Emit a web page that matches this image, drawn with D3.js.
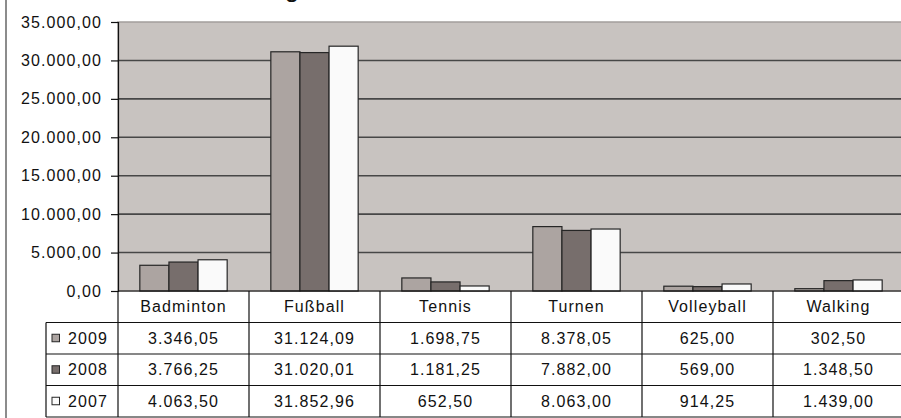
<!DOCTYPE html>
<meta charset="utf-8">
<style>
body { margin: 0; background: #fff; }
text { font-family: "Liberation Sans", Arial, sans-serif; fill: #111; }
.lbl { font-size: 16px; letter-spacing: 1.1px; }
</style>
<body>
<script src="https://d3js.org/d3.v7.min.js"></script>
<script>

var categories = ["Badminton", "Fußball", "Tennis", "Turnen", "Volleyball", "Walking"];
var years = ["2009", "2008", "2007"];
var v2009 = [3346.05, 31124.09, 1698.75, 8378.05, 625.00, 302.50];
var v2008 = [3766.25, 31020.01, 1181.25, 7882.00, 569.00, 1348.50];
var v2007 = [4063.50, 31852.96, 652.50, 8063.00, 914.25, 1439.00];
var yTicks = [0, 5000, 10000, 15000, 20000, 25000, 30000, 35000];

var seriesValues = [v2009, v2008, v2007];
var colors = ["#aca4a1", "#776e6c", "#fafafa"];

var width = 901, height = 418;
var plotLeft = 118, plotRight = 904, plotTop = 22, plotBottom = 291;
var rowH = 31.5, legendLeft = 46;

// german number format
var de = d3.formatLocale({decimal: ",", thousands: ".", grouping: [3], currency: ["", "€"]});
var fmt = de.format(",.2f");

var svg = d3.select("body").append("svg")
    .attr("width", width)
    .attr("height", height);

// outer chart border (left side visible)
svg.append("line")
    .attr("x1", 6).attr("x2", 6).attr("y1", 0).attr("y2", height)
    .attr("stroke", "#8c8c8c").attr("stroke-width", 2);

// title, mostly cut off above the picture
svg.append("text")
    .attr("x", 292).attr("y", -3)
    .attr("text-anchor", "middle")
    .style("font-size", "26px")
    .text("g");

var x0 = d3.scaleBand().domain(categories).range([plotLeft, plotRight]);
var gap = x0.bandwidth() * 1.5 / 4.5 / 2;
var x1 = d3.scaleBand().domain(years).range([gap, x0.bandwidth() - gap]);
var y = d3.scaleLinear().domain([0, 35000]).range([plotBottom, plotTop]);

// plot area
svg.append("rect")
    .attr("x", plotLeft).attr("y", plotTop)
    .attr("width", plotRight - plotLeft).attr("height", plotBottom - plotTop)
    .attr("fill", "#c8c3c0")
    .attr("stroke", "#a39e9c").attr("stroke-width", 1.5);

// gridlines
svg.append("g")
  .selectAll("line")
  .data(yTicks.filter(function(d) { return d > 0 && d < 35000; }))
  .enter().append("line")
    .attr("x1", plotLeft).attr("x2", plotRight)
    .attr("y1", function(d) { return y(d); })
    .attr("y2", function(d) { return y(d); })
    .attr("stroke", "#474747").attr("stroke-width", 1.6);

// bars
years.forEach(function(yr, i) {
  svg.append("g")
    .selectAll("rect")
    .data(categories)
    .enter().append("rect")
      .attr("x", function(c) { return x0(c) + x1(yr); })
      .attr("y", function(c, j) { return y(seriesValues[i][j]); })
      .attr("width", x1.bandwidth())
      .attr("height", function(c, j) { return plotBottom - y(seriesValues[i][j]); })
      .attr("fill", colors[i])
      .attr("stroke", "#262626").attr("stroke-width", 1.2);
});

// y axis
var yAxis = svg.append("g")
    .attr("transform", "translate(" + plotLeft + ",0)")
    .call(d3.axisLeft(y).tickValues(yTicks).tickSize(7).tickPadding(9)
      .tickFormat(function(d) { return fmt(d); }));
yAxis.select(".domain").attr("stroke", "#111").attr("stroke-width", 1.2);
yAxis.selectAll(".tick line").attr("stroke", "#111").attr("stroke-width", 1.2);
yAxis.selectAll(".tick text")
    .attr("class", "lbl")
    .style("font-family", "Liberation Sans, Arial, sans-serif")
    .style("font-size", "16px")
    .attr("fill", "#111");

// data table
var tableTop = plotBottom;
var table = svg.append("g");
var lineColor = "#111";

// horizontal lines
[0, 1, 2, 3, 4].forEach(function(r) {
  table.append("line")
    .attr("x1", r === 0 ? plotLeft : legendLeft).attr("x2", width)
    .attr("y1", tableTop + r * rowH).attr("y2", tableTop + r * rowH)
    .attr("stroke", lineColor).attr("stroke-width", 1.2);
});
// vertical lines
table.append("line")
    .attr("x1", legendLeft).attr("x2", legendLeft)
    .attr("y1", tableTop + rowH).attr("y2", tableTop + 4 * rowH)
    .attr("stroke", lineColor).attr("stroke-width", 1.2);
table.selectAll(".vline")
  .data(categories)
  .enter().append("line")
    .attr("x1", function(c) { return x0(c); })
    .attr("x2", function(c) { return x0(c); })
    .attr("y1", tableTop).attr("y2", tableTop + 4 * rowH)
    .attr("stroke", lineColor).attr("stroke-width", 1.2);

// category names
table.selectAll(".cat")
  .data(categories)
  .enter().append("text")
    .attr("class", "lbl")
    .attr("x", function(c) { return x0(c) + x0.bandwidth() / 2; })
    .attr("y", tableTop + rowH / 2)
    .attr("dy", "0.35em")
    .attr("text-anchor", "middle")
    .text(function(c) { return c; });

// rows
years.forEach(function(yr, i) {
  var cy = tableTop + (i + 1) * rowH + rowH / 2;
  table.append("rect")
    .attr("x", 52).attr("y", cy - 4)
    .attr("width", 7.5).attr("height", 7.5)
    .attr("fill", colors[i])
    .attr("stroke", "#262626").attr("stroke-width", 1);
  table.append("text")
    .attr("class", "lbl")
    .attr("x", 68).attr("y", cy).attr("dy", "0.35em")
    .text(yr);
  table.selectAll(".v" + yr)
    .data(seriesValues[i])
    .enter().append("text")
      .attr("class", "lbl")
      .attr("x", function(d, j) { return x0(categories[j]) + x0.bandwidth() / 2; })
      .attr("y", cy).attr("dy", "0.35em")
      .attr("text-anchor", "middle")
      .text(function(d) { return fmt(d); });
});

</script>
</body>
